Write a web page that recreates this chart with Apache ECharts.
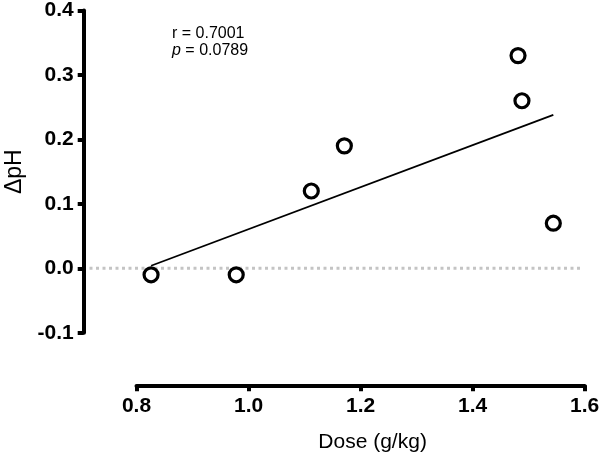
<!DOCTYPE html>
<html>
<head>
<meta charset="utf-8">
<script src="https://cdn.jsdelivr.net/npm/echarts@6/dist/echarts.min.js"></script>
<style>
html,body{margin:0;padding:0;background:#fff;}
#chart{width:600px;height:465px;}
</style>
</head>
<body>
<div id="chart"></div>
<script>
// Data
var doseValues = [0.826, 0.978, 1.112, 1.171, 1.481, 1.488, 1.544];
var dphValues  = [-0.01, -0.01, 0.12, 0.19, 0.33, 0.26, 0.07];
var fitX = [0.826, 1.544];
var fitY = [0.004, 0.238];
var zeroLineX = [0, 1];      // spans the reference band across the plot
var zeroLineY = [0, 0];
var xTicks = [0.8, 1.0, 1.2, 1.4, 1.6];
var yTicks = [-0.1, 0.0, 0.1, 0.2, 0.3, 0.4];
var statR = '0.7001';
var statP = '0.0789';

var FONT = '"Liberation Sans", Arial, Helvetica, sans-serif';

var points = doseValues.map(function (x, i) { return [x, dphValues[i]]; });
var fitLine = fitX.map(function (x, i) { return [x, fitY[i]]; });
var zeroLine = zeroLineX.map(function (x, i) { return [x, zeroLineY[i]]; });

var chart = echarts.init(document.getElementById('chart'), null, {renderer: 'canvas'});
chart.setOption({
  animation: false,
  backgroundColor: '#ffffff',
  title: {
    text: '{n|r} = ' + statR + '\n{i|p} = ' + statP,
    left: 172,
    top: 25,
    padding: 0,
    textStyle: {
      fontFamily: FONT,
      fontSize: 16,
      fontWeight: 'normal',
      color: '#000',
      lineHeight: 17,
      rich: {
        n: {fontFamily: FONT, fontSize: 16, color: '#000', lineHeight: 17},
        i: {fontFamily: FONT, fontSize: 16, fontStyle: 'italic', color: '#000', lineHeight: 17}
      }
    }
  },
  grid: [
    {left: 136.5, right: 15.3, top: 10.5, bottom: 132.2, containLabel: false, outerBoundsMode: 'none'},
    {left: 89.5, right: 17.5, top: 10.5, bottom: 132.2, containLabel: false, outerBoundsMode: 'none'}
  ],
  xAxis: [{
    type: 'value',
    gridIndex: 0,
    min: xTicks[0],
    max: xTicks[xTicks.length - 1],
    interval: 0.2,
    offset: 52.5,
    name: 'Dose (g/kg)',
    nameLocation: 'middle',
    nameGap: 46,
    nameTextStyle: {fontFamily: FONT, fontSize: 21, color: '#000', padding: [0, 0, 0, 24]},
    axisLine: {show: true, onZero: false, lineStyle: {color: '#000', width: 4}},
    axisTick: {show: true, length: 6, lineStyle: {color: '#000', width: 4}},
    axisLabel: {fontFamily: FONT, fontSize: 21, fontWeight: 'bold', color: '#000', margin: 10,
      formatter: function (v) { return v.toFixed(1); }},
    splitLine: {show: false}
  }, {
    type: 'value',
    gridIndex: 1,
    min: 0,
    max: 1,
    show: false
  }],
  yAxis: [{
    type: 'value',
    gridIndex: 0,
    min: yTicks[0],
    max: yTicks[yTicks.length - 1],
    interval: 0.1,
    offset: 52.8,
    name: 'ΔpH',
    nameLocation: 'middle',
    nameGap: 58,
    nameTextStyle: {fontFamily: FONT, fontSize: 23, color: '#000'},
    axisLine: {show: true, onZero: false, lineStyle: {color: '#000', width: 4}},
    axisTick: {show: true, length: 6, lineStyle: {color: '#000', width: 4}},
    axisLabel: {fontFamily: FONT, fontSize: 21, fontWeight: 'bold', color: '#000', margin: 10,
      formatter: function (v) { return v.toFixed(1); }},
    splitLine: {show: false}
  }, {
    type: 'value',
    gridIndex: 1,
    min: yTicks[0],
    max: yTicks[yTicks.length - 1],
    show: false
  }],
  series: [
    {
      type: 'line',
      xAxisIndex: 1,
      yAxisIndex: 1,
      data: zeroLine,
      symbol: 'none',
      silent: true,
      lineStyle: {color: '#c4c4c4', width: 3, type: [3, 3.5]},
      z: 1
    },
    {
      type: 'line',
      data: fitLine,
      clip: false,
      symbol: 'none',
      silent: true,
      lineStyle: {color: '#000', width: 1.8},
      z: 2
    },
    {
      type: 'scatter',
      data: points,
      clip: false,
      symbol: 'circle',
      symbolSize: 14,
      itemStyle: {color: '#fff', borderColor: '#000', borderWidth: 3.2, opacity: 1},
      z: 3
    }
  ]
});
</script>
</body>
</html>
